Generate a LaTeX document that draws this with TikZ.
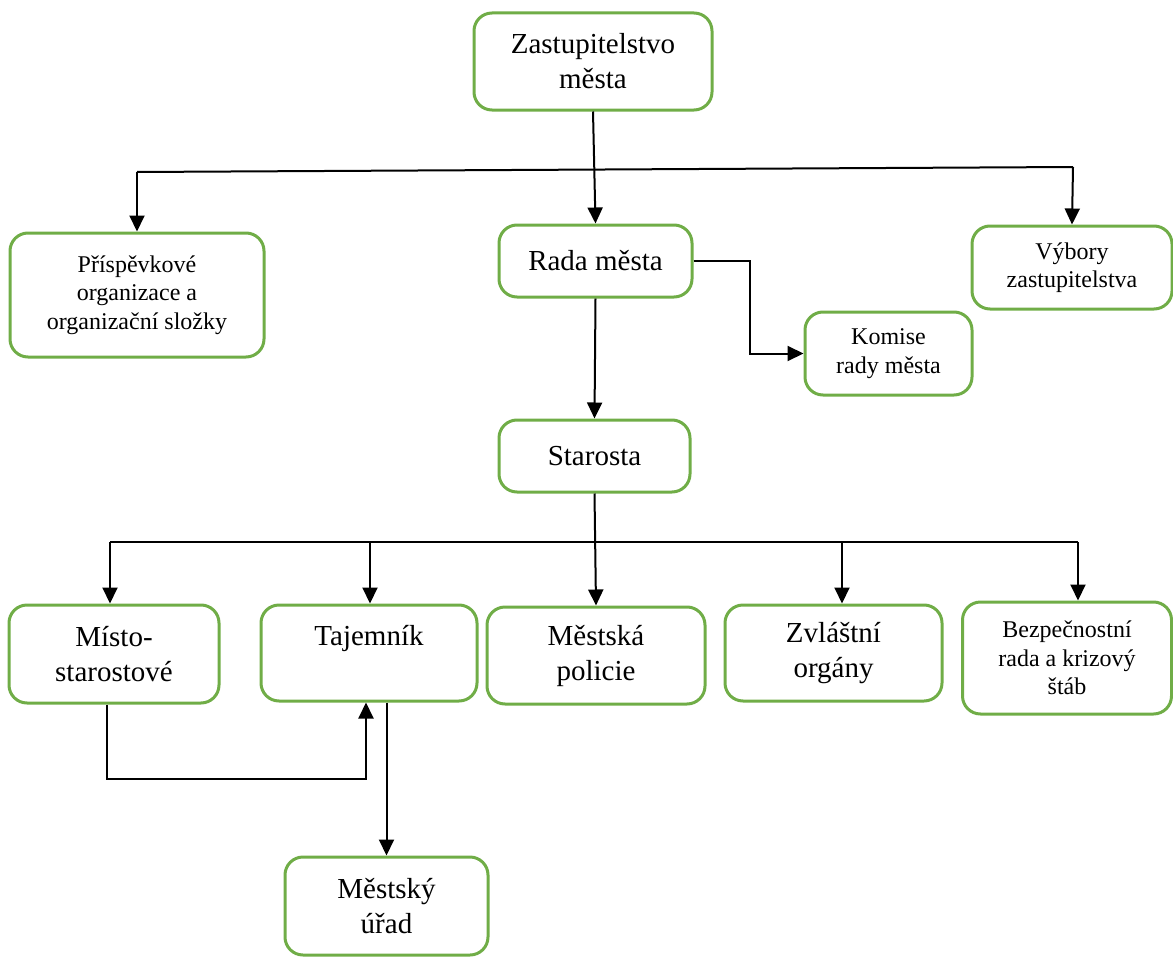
\documentclass[tikz,border=0pt]{standalone}
\usepackage{fontspec}
\setmainfont{Liberation Serif}
\usepackage{xcolor}
\usetikzlibrary{arrows.meta}
\definecolor{boxgreen}{RGB}{112,173,71}
\begin{document}
\begin{tikzpicture}[x=1pt, y=-1pt,
	box/.style={draw=boxgreen, line width=3pt, rounded corners=18pt, align=center, inner sep=0pt},
	big/.style={font=\fontsize{29}{35}\selectfont},
	small/.style={font=\fontsize{24}{28.5}\selectfont},
	line/.style={draw=black, line width=2pt},
	arr/.style={line, -{Triangle[length=16pt,width=15pt]}}]
\useasboundingbox (0,0) rectangle (1173,958);
\node[box, big, minimum width=238pt, minimum height=97pt] (zast) at (593,61.5) {Zastupitelstvo\\města};
\node[box, small, minimum width=254pt, minimum height=124pt] (prisp) at (137,295) {Příspěvkové\\organizace a\\organizační složky};
\node[box, big, minimum width=193pt, minimum height=72pt] (rada) at (595.5,261) {Rada města};
\node[box, small, minimum width=200pt, minimum height=83pt] (vybory) at (1072,267.5) {Výbory\\zastupitelstva};
\node[box, small, minimum width=167pt, minimum height=83pt] (komise) at (888.5,353.5) {Komise\\rady města};
\node[box, big, minimum width=191pt, minimum height=72pt] (starosta) at (594.5,456) {Starosta};
\node[box, big, minimum width=210pt, minimum height=98pt] (misto) at (114,654) {Místo-\\starostové};
\node[box, big, minimum width=216pt, minimum height=96pt] (tajemnik) at (369,653) {Tajemník\\~};
\node[box, big, minimum width=218pt, minimum height=97pt] (policie) at (596,655.5) {Městská\\policie};
\node[box, big, minimum width=217pt, minimum height=96pt] (zvlastni) at (833.5,653) {Zvláštní\\orgány};
\node[box, small, minimum width=209pt, minimum height=112pt] (bezpec) at (1067,658) {Bezpečnostní\\rada a krizový\\štáb};
\node[box, big, minimum width=203pt, minimum height=98pt] (urad) at (386.5,906) {Městský\\úřad};
\coordinate (barA) at (137,172);
\coordinate (barB) at (1073,167);
\coordinate (barC) at (110,542);
\coordinate (barD) at (370,542);
\coordinate (barE) at (842,542);
\coordinate (barF) at (1078,542);
\draw[line] (barA) -- (barB);
\draw[arr] (barA) -- (prisp.north);
\draw[arr] (barB) -- (vybory.north);
\draw[arr] (zast.south) -- (rada.north);
\draw[arr] (rada.east) -- ++(56,0) |- (komise.west);
\draw[arr] (rada.south) -- (starosta.north);
\draw[line] (barC) -- (barF);
\draw[arr] (starosta.south) -- (policie.north);
\draw[arr] (barC) -- (barC |- misto.north);
\draw[arr] (barD) -- (barD |- tajemnik.north);
\draw[arr] (barE) -- (barE |- zvlastni.north);
\draw[arr] (barF) -- (barF |- bezpec.north);
\draw[arr] ([xshift=-7pt]misto.south) -- ++(0,74) -| ([xshift=-3pt]tajemnik.south);
\draw[arr] (urad.north |- tajemnik.south) -- (urad.north);
\end{tikzpicture}
\end{document}
